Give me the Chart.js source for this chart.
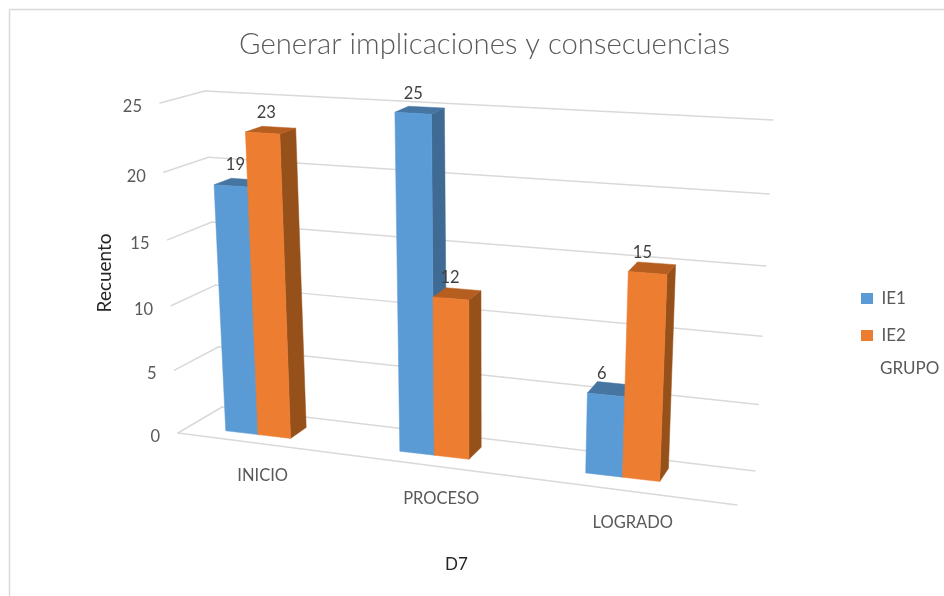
<!DOCTYPE html>
<html><head><meta charset="utf-8">
<style>html,body{margin:0;padding:0;background:#fff}#w{width:944px;height:596px}</style>
<script src="https://cdn.jsdelivr.net/npm/chart.js@4/dist/chart.umd.js"></script>
</head><body><div id="w"><canvas id="c" width="944" height="596"></canvas></div>
<script>
const categories = ["INICIO","PROCESO","LOGRADO"];
const ie1 = [19,25,6];
const ie2 = [23,12,15];
const seriesNames = ["IE1","IE2"];
const frontColors = ["#5B9BD5","#ED7D31"];
const sideColors = ["#3E6A94","#96511B"];
const topColors = ["#4675A2","#B55E20"];
const FONT = "Lato";

// projection planes of the 3D box (unit square -> screen)
const frontQuad = [[178,433],[737,505],[756,140],[160,103]];
const backQuad  = [[222,407],[755,471],[773,120],[205,91]];
const Z0 = .25, Z1 = .65, UA = -.03, UB = .993, ZU = .15;

function homog(q){
  const [[x0,y0],[x1,y1],[x2,y2],[x3,y3]] = q;
  const dx1=x1-x2, dx2=x3-x2, sx=x0-x1+x2-x3, dy1=y1-y2, dy2=y3-y2, sy=y0-y1+y2-y3;
  const d=dx1*dy2-dx2*dy1;
  const g=(sx*dy2-dx2*sy)/d, h=(dx1*sy-sx*dy1)/d;
  const a=x1-x0+g*x1, b=x3-x0+h*x3, c=x0, e=y1-y0+g*y1, f=y3-y0+h*y3, i=y0;
  return (u,v)=>{const w=g*u+h*v+1;return [(a*u+b*v+c)/w,(e*u+f*v+i)/w];};
}
const Hf=homog(frontQuad), Hb=homog(backQuad);
function P(u,v,z){const a=Hf(u,v),b=Hb(u,v);return [a[0]+(b[0]-a[0])*z,a[1]+(b[1]-a[1])*z];}
function Q(u,v,z){return P(u,v,z+ZU*u);}
function poly(ctx,pts,fill){ctx.beginPath();pts.forEach((p,i)=>i?ctx.lineTo(p[0],p[1]):ctx.moveTo(p[0],p[1]));ctx.closePath();ctx.fillStyle=fill;ctx.fill();ctx.strokeStyle=fill;ctx.lineWidth=.5;ctx.stroke();}
function seg(ctx,a,b){ctx.beginPath();ctx.moveTo(a[0],a[1]);ctx.lineTo(b[0],b[1]);ctx.stroke();}

const box3d = {
  id:'box3d',
  afterLayout(chart){
    const t=chart.titleBlock; t.left=25; t.right=944;
    const l=chart.legend; const w=l.right-l.left, h=l.bottom-l.top;
    l.left=841; l.right=841+w;
    const cy=317; l.top=cy-h/2; l.bottom=cy+h/2;
  },
  beforeDatasetDraw(){return false;},
  beforeDatasetsDraw(chart){
    const ctx=chart.ctx, a=chart.chartArea, y=chart.scales.y;
    ctx.save();
    ctx.strokeStyle="#D9D9D9";ctx.lineWidth=1.5;
    seg(ctx,[9.5,596],[9.5,9.5]);seg(ctx,[9.5,9.5],[944,9.5]);
    ctx.lineCap='round';
    y.ticks.forEach(t=>{
      const v=(a.bottom-y.getPixelForValue(t.value))/a.height;
      const f=P(0,v,0),c=P(0,v,1),e=P(1,v,1);
      seg(ctx,f,c);seg(ctx,c,e);
      ctx.font="16.5px "+FONT;ctx.fillStyle="#595959";ctx.textAlign="right";ctx.textBaseline="middle";
      ctx.fillText(String(t.value),f[0]-18,f[1]+4);
    });
    seg(ctx,P(0,0,0),P(1,0,0));
    ctx.restore();
  },
  afterDatasetsDraw(chart){
    const ctx=chart.ctx, a=chart.chartArea;
    const U=x=>UA+UB*(x-a.left)/a.width, V=y=>(a.bottom-y)/a.height;
    ctx.save();
    const m0=chart.getDatasetMeta(0).data;
    const labels=[];
    categories.forEach((cat,ci)=>{
      [0,1].forEach(ds=>{
        const el=chart.getDatasetMeta(ds).data[ci];
        const u0=U(el.x-el.width/2),u1=U(el.x+el.width/2),v1=V(el.y),v0=V(el.base);
        poly(ctx,[Q(u1,v0,Z0),Q(u1,v0,Z1),Q(u1,v1,Z1),Q(u1,v1,Z0)],sideColors[ds]);
        poly(ctx,[Q(u0,v1,Z0),Q(u1,v1,Z0),Q(u1,v1,Z1),Q(u0,v1,Z1)],topColors[ds]);
        poly(ctx,[Q(u0,v0,Z0),Q(u1,v0,Z0),Q(u1,v1,Z0),Q(u0,v1,Z0)],frontColors[ds]);
        const um=(u0+u1)/2, c=Q(um,v1,(Z0+Z1)/2);
        labels.push([chart.data.datasets[ds].data[ci],c[0]-3-8*um,c[1]-18+3*um]);
      });
      const el=m0[ci];
      const un=U(el.x+el.width/2), p=P(un,0,0);
      ctx.font="16.5px "+FONT;ctx.fillStyle="#595959";ctx.textAlign="center";ctx.textBaseline="middle";
      ctx.fillText(cat,p[0]+15+5*un,p[1]+34);
    });
    ctx.font="16.5px "+FONT;ctx.fillStyle="#404040";ctx.textAlign="center";ctx.textBaseline="middle";
    labels.forEach(l=>ctx.fillText(String(l[0]),l[1],l[2]));
    ctx.font="17px "+FONT;ctx.fillStyle="#595959";ctx.textAlign="left";
    ctx.fillText("GRUPO",880,369);
    ctx.restore();
  }
};

new Chart(document.getElementById('c'),{
  type:'bar',
  plugins:[box3d],
  data:{labels:categories,datasets:[
    {label:seriesNames[0],data:ie1,backgroundColor:frontColors[0]},
    {label:seriesNames[1],data:ie2,backgroundColor:frontColors[1]}
  ]},
  options:{
    responsive:false,animation:false,
    layout:{padding:{left:93,right:116,top:0,bottom:21}},
    datasets:{bar:{categoryPercentage:.38,barPercentage:1}},
    plugins:{
      tooltip:{enabled:false},
      title:{display:true,text:"Generar implicaciones y consecuencias",color:"#595959",
        font:{family:FONT,size:29.3,weight:300,lineHeight:1.2},padding:{top:27,bottom:47}},
      legend:{position:'right',align:'center',
        labels:{boxWidth:12,boxHeight:11,padding:20,color:"#595959",font:{family:FONT,size:17}}}
    },
    scales:{
      x:{grid:{display:false},border:{display:false},ticks:{display:false},
        title:{display:true,text:"D7",color:"#262626",font:{family:FONT,size:17,lineHeight:1.2},padding:{top:110,bottom:0}}},
      y:{min:0,max:25,grid:{display:false},border:{display:false},
        ticks:{display:false,stepSize:5},
        title:{display:true,text:"Recuento",color:"#262626",font:{family:FONT,size:19,lineHeight:1.2},padding:{top:0,bottom:36}}}
    }
  }
});
</script></body></html>
